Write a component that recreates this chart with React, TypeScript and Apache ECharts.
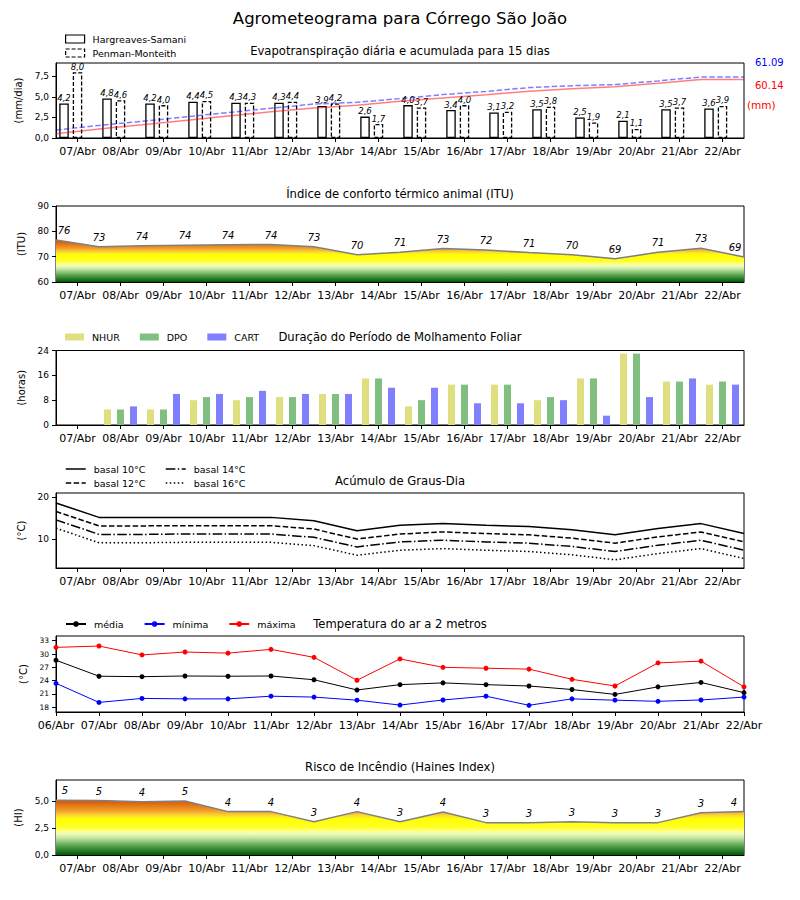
import React, { useEffect, useRef } from 'react';
import * as echarts from 'echarts';

// ---------- data ----------
const DAYS = ['07/Abr','08/Abr','09/Abr','10/Abr','11/Abr','12/Abr','13/Abr','14/Abr','15/Abr','16/Abr','17/Abr','18/Abr','19/Abr','20/Abr','21/Abr','22/Abr'];
const TEMP_DAYS = ['06/Abr','07/Abr','08/Abr','09/Abr','10/Abr','11/Abr','12/Abr','13/Abr','14/Abr','15/Abr','16/Abr','17/Abr','18/Abr','19/Abr','20/Abr','21/Abr','22/Abr'];

const ET_HS = [4.2,4.8,4.2,4.4,4.3,4.3,3.9,2.6,4.0,3.4,3.1,3.5,2.5,2.1,3.5,3.6];
const ET_PM = [8.0,4.6,4.0,4.5,4.3,4.4,4.2,1.7,3.7,4.0,3.2,3.8,1.9,1.1,3.7,3.9];
const ET_TOTAL_PM = '61.09';
const ET_TOTAL_HS = '60.14';

const ITU = [76.6,73.9,74.3,74.5,74.7,74.8,73.95,70.8,71.7,73.2,72.6,71.6,70.8,69.2,71.7,73.3,69.9];

const NHUR = [0,5,5,8,8,9,10,15,6,13,13,8,15,23,14,13];
const DPO  = [0,5,5,9,9,9,10,15,8,13,13,9,15,23,14,14];
const CART = [0,6,10,10,11,10,10,12,12,7,7,8,3,9,15,13];

const GD10 = [18.65,15.2,15.2,15.2,15.2,15.2,14.4,12.0,13.3,13.7,13.3,13.0,12.2,11.0,12.5,13.7,11.3];
const GD12 = [16.6,13.15,13.15,13.2,13.2,13.2,12.4,10.0,11.2,11.7,11.3,11.0,10.2,9.0,10.5,11.7,9.3];
const GD14 = [14.6,11.1,11.1,11.2,11.2,11.2,10.4,8.1,9.3,9.7,9.3,9.0,8.2,7.0,8.5,9.7,7.3];
const GD16 = [12.6,9.1,9.1,9.2,9.2,9.2,8.4,6.1,7.3,7.7,7.3,7.0,6.2,5.0,6.5,7.7,5.3];

const TMED = [28.6,25.0,24.9,25.05,25.0,25.05,24.2,21.9,23.1,23.5,23.1,22.8,22.0,20.9,22.6,23.6,21.3];
const TMIN = [23.4,19.1,20.0,19.9,19.9,20.5,20.3,19.6,18.5,19.65,20.5,18.45,19.9,19.6,19.35,19.65,20.3];
const TMAX = [31.5,31.8,29.8,30.45,30.2,31.05,29.25,24.1,28.9,27.0,26.8,26.6,24.3,22.8,28.0,28.4,22.6];

const HAINES = [5.12,5.08,4.97,5.04,4.05,4.05,3.1,4.05,3.1,4.02,3.02,3.02,3.1,3.02,3.02,3.95,4.06];

// ---------- layout ----------
const FONT = 'DejaVu Sans';
const LEFT = 56;
const WIDTH = 688;
const GRIDS = [
  { top: 63, height: 75 },
  { top: 206, height: 76 },
  { top: 350.5, height: 74.5 },
  { top: 493, height: 75 },
  { top: 636, height: 76 },
  { top: 780, height: 75 },
];
const Y_RANGES = [
  [0, 9.12],
  [60, 90],
  [0, 24],
  [3.03, 21.06],
  [16.94, 34.06],
  [0, 7],
];

const yPix = (gi: number, v: number) => {
  const g = GRIDS[gi];
  const [mn, mx] = Y_RANGES[gi];
  return g.top + (g.height * (mx - v)) / (mx - mn);
};

const STOPS: [number, string][] = [
  [0.0, '#005a00'],
  [0.05, '#1f741f'],
  [0.1, '#3f8f3f'],
  [0.15, '#66aa55'],
  [0.2, '#90c880'],
  [0.25, '#bfe3a0'],
  [0.3, '#e6f7b8'],
  [0.33, '#f4ffb0'],
  [0.37, '#ffff70'],
  [0.42, '#ffff20'],
  [0.54, '#ffff00'],
  [0.58, '#fde030'],
  [0.62, '#f8c030'],
  [0.66, '#f0a028'],
  [0.72, '#e8821a'],
  [0.78, '#dc6410'],
  [0.84, '#d04c06'],
  [1.0, '#c03000'],
];

const gradient = (gi: number, vLow: number, vHigh: number) => ({
  type: 'linear',
  x: 0,
  y: yPix(gi, vLow),
  x2: 0,
  y2: yPix(gi, vHigh),
  global: true,
  colorStops: STOPS.map(([offset, color]) => ({ offset, color })),
});

const comma1 = (v: number) => v.toFixed(1).replace('.', ',');

const catAxis = (gi: number, data: string[], boundaryGap = true) => ({
  type: 'category',
  gridIndex: gi,
  data,
  boundaryGap,
  axisLine: { show: true, lineStyle: { color: '#000', width: 1 } },
  axisTick: { show: true, alignWithLabel: true, interval: 0, length: 4, lineStyle: { color: '#000' } },
  axisLabel: { interval: 0, fontSize: 11, color: '#000', margin: 8, fontFamily: FONT },
  splitLine: { show: false },
});

const hiddenX = (gi: number) => ({
  type: 'value',
  gridIndex: gi,
  min: 0,
  max: 16,
  show: false,
  splitLine: { show: false },
});

const yAxis = (gi: number, name: string, nameGap: number, extra: any = {}) => {
  const [min, max] = Y_RANGES[gi];
  return {
    type: 'value',
    gridIndex: gi,
    min,
    max,
    name,
    nameLocation: 'middle',
    nameGap,
    nameRotate: 90,
    nameTextStyle: { fontSize: 10, color: '#000', fontFamily: FONT },
    axisLine: { show: true, lineStyle: { color: '#000' } },
    axisTick: { show: true, length: 4, lineStyle: { color: '#000' }, ...(extra.tickValues ? { customValues: extra.tickValues } : {}) },
    axisLabel: {
      fontSize: extra.fontSize || 9,
      color: '#000',
      margin: 7,
      fontFamily: FONT,
      ...(extra.formatter ? { formatter: extra.formatter } : {}),
      ...(extra.tickValues ? { customValues: extra.tickValues } : {}),
    },
    ...(extra.interval ? { interval: extra.interval } : {}),
    splitLine: { show: false },
  };
};

const cumulative = (arr: number[]) => {
  const out: number[][] = [];
  let s = 0;
  arr.forEach((v, k) => {
    s += v;
    out.push([k, +s.toFixed(2)]);
  });
  out.push([arr.length, out[out.length - 1][1]]);
  return out;
};

const floorLabel = {
  show: true,
  position: 'top',
  distance: 4,
  fontSize: 10,
  fontStyle: 'italic',
  color: '#000',
  fontFamily: FONT,
  formatter: (p: any) => String(Math.floor(p.value[1])),
};

const barLabel = {
  show: true,
  position: 'top',
  distance: 1,
  fontSize: 8.5,
  fontStyle: 'italic',
  color: '#000',
  fontFamily: FONT,
  formatter: (p: any) => comma1(p.value),
};

const legendText = { fontSize: 9.5, lineHeight: 12, color: '#000', fontFamily: FONT, padding: [0, 0, 0, 3] };

const titleText = (text: string, y: number, size: number) => ({
  type: 'text',
  x: 400,
  y,
  style: { text, fontSize: size, fontFamily: FONT, fill: '#000', textAlign: 'center', textVerticalAlign: 'middle' },
});

const sideText = (text: string, x: number, y: number, color: string, size: number) => ({
  type: 'text',
  x,
  y,
  style: { text, fontSize: size, fontFamily: FONT, fill: color, textAlign: 'left', textVerticalAlign: 'middle' },
});

const areaLine = (name: string, xi: number, yi: number, values: number[], grad: any, dxFirst: number, dxLast: number) => ({
  type: 'line', name, xAxisIndex: xi, yAxisIndex: yi,
  data: values.map((v, k) => [k, v]),
  symbol: 'circle', symbolSize: 1, showSymbol: true,
  lineStyle: { color: '#808080', width: 1.5 },
  itemStyle: { color: 'rgba(0,0,0,0)' },
  areaStyle: { color: grad, opacity: 1, origin: 'start' },
  label: floorLabel,
  labelLayout: (p: any) => {
    if (p.dataIndex === 0) return { dx: dxFirst, hideOverlap: false };
    if (p.dataIndex === values.length - 1) return { dx: dxLast, hideOverlap: false };
    return { hideOverlap: false };
  },
});

function buildOption(): any {
  return {
    animation: false,
    backgroundColor: '#fff',
    textStyle: { fontFamily: FONT },
    grid: GRIDS.map((g) => ({
      left: LEFT,
      width: WIDTH,
      top: g.top,
      height: g.height,
      show: true,
      borderColor: '#000',
      borderWidth: 1,
      backgroundColor: 'transparent',
    })),
    xAxis: [
      catAxis(0, DAYS),
      hiddenX(0),
      catAxis(1, DAYS),
      hiddenX(1),
      catAxis(2, DAYS),
      catAxis(3, DAYS),
      hiddenX(3),
      catAxis(4, TEMP_DAYS, false),
      catAxis(5, DAYS),
      hiddenX(5),
    ],
    yAxis: [
      yAxis(0, '(mm/dia)', 31, { tickValues: [0, 2.5, 5, 7.5], formatter: comma1 }),
      { type: 'value', gridIndex: 0, min: 0, max: 75, show: false, splitLine: { show: false } },
      yAxis(1, '(ITU)', 28, { interval: 10 }),
      yAxis(2, '(horas)', 28, { interval: 8 }),
      yAxis(3, '(°C)', 28, { tickValues: [10, 20] }),
      yAxis(4, '(°C)', 28, { tickValues: [18, 21, 24, 27, 30, 33], fontSize: 7.5 }),
      yAxis(5, '(HI)', 33, { tickValues: [0, 2.5, 5], formatter: comma1 }),
    ],
    legend: [
      {
        left: 65, top: 33, orient: 'vertical', padding: 0, itemGap: 2, itemWidth: 19, itemHeight: 8,
        selectedMode: false, textStyle: legendText,
        itemStyle: { borderWidth: 1.2 },
        data: [
          { name: 'Hargreaves-Samani', icon: 'rect' },
          { name: 'Penman-Monteith', icon: 'rect', itemStyle: { borderType: [4, 2], borderWidth: 1.2 } },
        ],
      },
      {
        left: 65, top: 331, orient: 'horizontal', padding: 0, itemGap: 20, itemWidth: 19, itemHeight: 7,
        selectedMode: false, textStyle: legendText,
        data: [{ name: 'NHUR', icon: 'rect' }, { name: 'DPO', icon: 'rect' }, { name: 'CART', icon: 'rect' }],
      },
      {
        left: 65, top: 463, orient: 'vertical', padding: 0, itemGap: 2, itemWidth: 20, itemHeight: 8,
        selectedMode: false, textStyle: legendText, itemStyle: { opacity: 0 }, lineStyle: { width: 1.5 },
        data: ['basal 10°C', 'basal 12°C'],
      },
      {
        left: 165, top: 463, orient: 'vertical', padding: 0, itemGap: 2, itemWidth: 20, itemHeight: 8,
        selectedMode: false, textStyle: legendText, itemStyle: { opacity: 0 }, lineStyle: { width: 1.5 },
        data: ['basal 14°C', 'basal 16°C'],
      },
      {
        left: 65, top: 618, orient: 'horizontal', padding: 0, itemGap: 20, itemWidth: 20, itemHeight: 7,
        selectedMode: false, textStyle: legendText,
        data: ['média', 'mínima', 'máxima'],
      },
    ],
    graphic: [
      titleText('Agrometeograma para Córrego São João', 18, 16.5),
      titleText('Evapotranspiração diária e acumulada para 15 dias', 51, 11.6),
      titleText('Índice de conforto térmico animal (ITU)', 194, 11.6),
      titleText('Duração do Período de Molhamento Foliar', 337, 11.6),
      titleText('Acúmulo de Graus-Dia', 481, 11.6),
      titleText('Temperatura do ar a 2 metros', 624, 11.6),
      titleText('Risco de Incêndio (Haines Index)', 767, 11.6),
      sideText(ET_TOTAL_PM, 755, 62, '#0000ff', 10),
      sideText(ET_TOTAL_HS, 755, 85, '#ff0000', 10),
      sideText('(mm)', 747, 105, '#ff0000', 10.5),
    ],
    series: [
      // Panel 1
      {
        type: 'bar', name: 'Hargreaves-Samani', xAxisIndex: 0, yAxisIndex: 0, data: ET_HS,
        barWidth: 9.5, barGap: '42%',
        itemStyle: { color: 'rgba(255,255,255,0)', borderColor: '#000', borderWidth: 1.3 },
        label: barLabel,
      },
      {
        type: 'bar', name: 'Penman-Monteith', xAxisIndex: 0, yAxisIndex: 0, data: ET_PM,
        barWidth: 9.5, barGap: '42%',
        itemStyle: { color: 'rgba(255,255,255,0)', borderColor: '#000', borderWidth: 1.3, borderType: [4, 2] },
        label: barLabel,
      },
      { type: 'bar', name: 'spacer', xAxisIndex: 0, yAxisIndex: 0, data: [], barWidth: 9.5, barGap: '42%', silent: true },
      {
        type: 'line', name: 'HS acumulada', xAxisIndex: 1, yAxisIndex: 1, data: cumulative(ET_HS),
        symbol: 'none', lineStyle: { color: 'rgba(255,0,0,0.5)', width: 1.5 }, itemStyle: { color: 'rgba(255,0,0,0.5)' },
      },
      {
        type: 'line', name: 'PM acumulada', xAxisIndex: 1, yAxisIndex: 1, data: cumulative(ET_PM),
        symbol: 'none', lineStyle: { color: 'rgba(0,0,255,0.5)', width: 1.5, type: [5.5, 2.4] }, itemStyle: { color: 'rgba(0,0,255,0.5)' },
      },
      // Panel 2 ITU
      areaLine('ITU', 3, 2, ITU, gradient(1, 60, 80), 8, -9),
      // Panel 3 Molhamento
      {
        type: 'bar', name: 'NHUR', xAxisIndex: 4, yAxisIndex: 3, data: NHUR, barWidth: 7, barGap: '86%',
        itemStyle: { color: '#dfdf80' },
      },
      {
        type: 'bar', name: 'DPO', xAxisIndex: 4, yAxisIndex: 3, data: DPO, barWidth: 7, barGap: '86%',
        itemStyle: { color: '#80bf80' },
      },
      {
        type: 'bar', name: 'CART', xAxisIndex: 4, yAxisIndex: 3, data: CART, barWidth: 7, barGap: '86%',
        itemStyle: { color: '#8080ff' },
      },
      // Panel 4 Graus-dia
      {
        type: 'line', name: 'basal 10°C', xAxisIndex: 6, yAxisIndex: 4, data: GD10.map((v, k) => [k, v]),
        symbol: 'none', lineStyle: { color: '#000', width: 1.5 }, itemStyle: { color: '#000' },
      },
      {
        type: 'line', name: 'basal 12°C', xAxisIndex: 6, yAxisIndex: 4, data: GD12.map((v, k) => [k, v]),
        symbol: 'none', lineStyle: { color: '#000', width: 1.5, type: [5.5, 2.4] }, itemStyle: { color: '#000' },
      },
      {
        type: 'line', name: 'basal 14°C', xAxisIndex: 6, yAxisIndex: 4, data: GD14.map((v, k) => [k, v]),
        symbol: 'none', lineStyle: { color: '#000', width: 1.5, type: [9.6, 2.4, 1.5, 2.4] }, itemStyle: { color: '#000' },
      },
      {
        type: 'line', name: 'basal 16°C', xAxisIndex: 6, yAxisIndex: 4, data: GD16.map((v, k) => [k, v]),
        symbol: 'none', lineStyle: { color: '#000', width: 1.5, type: [1.5, 2.5] }, itemStyle: { color: '#000' },
      },
      // Panel 5 Temperatura
      {
        type: 'line', name: 'média', xAxisIndex: 7, yAxisIndex: 5, data: TMED,
        symbol: 'circle', symbolSize: 5, lineStyle: { color: '#000', width: 1 }, itemStyle: { color: '#000' },
      },
      {
        type: 'line', name: 'mínima', xAxisIndex: 7, yAxisIndex: 5, data: TMIN,
        symbol: 'circle', symbolSize: 5, lineStyle: { color: '#0000ff', width: 1 }, itemStyle: { color: '#0000ff' },
      },
      {
        type: 'line', name: 'máxima', xAxisIndex: 7, yAxisIndex: 5, data: TMAX,
        symbol: 'circle', symbolSize: 5, lineStyle: { color: '#ff0000', width: 1 }, itemStyle: { color: '#ff0000' },
      },
      // Panel 6 Haines
      areaLine('Haines', 9, 6, HAINES, gradient(5, 0, 6.25), 9, -10),
    ],
  };
}

export default function App() {
  const ref = useRef<HTMLDivElement>(null);
  useEffect(() => {
    if (!ref.current) return;
    const chart = echarts.init(ref.current, null, { renderer: 'svg' });
    chart.setOption(buildOption());
    return () => chart.dispose();
  }, []);
  return (
    <div
      ref={ref}
      style={{ position: 'absolute', left: 0, top: 0, width: 800, height: 900, background: '#fff' }}
    />
  );
}
